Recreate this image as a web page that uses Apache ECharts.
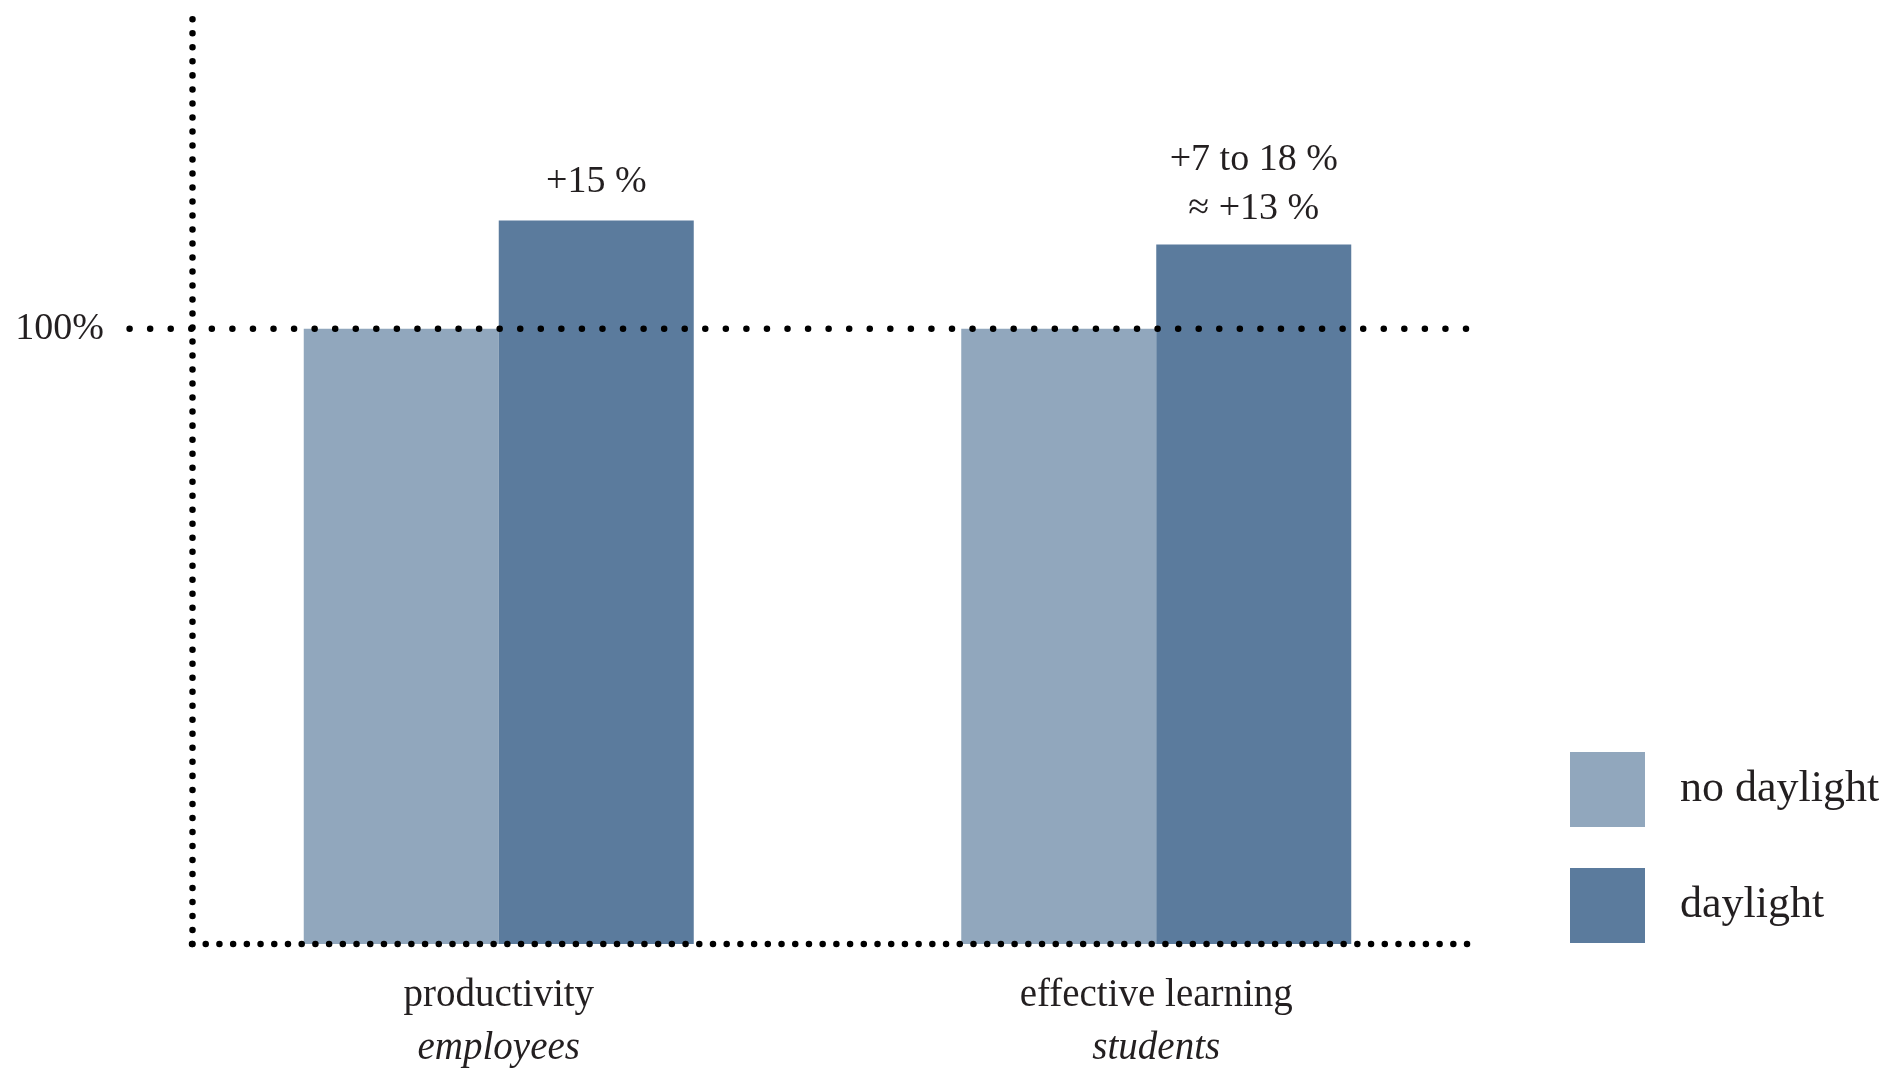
<!DOCTYPE html>
<html>
<head>
<meta charset="utf-8">
<script src="https://cdn.jsdelivr.net/npm/echarts@6/dist/echarts.min.js"></script>
<style>
html,body{margin:0;padding:0;background:#fff;}
#chart{width:1903px;height:1068px;}
</style>
</head>
<body>
<div id="chart"></div>
<script>
// ---- data ----
const categories = ['productivity', 'effective learning'];
const subLabels = ['employees', 'students'];
const seriesNames = ['no daylight', 'daylight'];
const noDaylight = [100, 100];
const daylight = [117.6, 113.7];
const daylightLabels = ['+15 %', '+7 to 18 %\n≈ +13 %'];
const refValue = 100;
const refLabel = '100%';

const FONT = '"Liberation Serif", "DejaVu Serif", serif';
const TXT = '#231f20';
const LIGHT = '#91a7bd';
const DARK = '#5b7b9d';
const labelDistances = [14, 11];

const chart = echarts.init(document.getElementById('chart'));
chart.setOption({
  animation: false,
  backgroundColor: '#fff',
  textStyle: { fontFamily: FONT, color: TXT },
  grid: { left: 170, right: 418, top: 12, bottom: 124 },
  legend: {
    orient: 'vertical',
    left: 1565, top: 747,
    itemWidth: 75, itemHeight: 75, itemGap: 41,
    icon: 'rect',
    data: seriesNames,
    textStyle: { fontFamily: FONT, fontSize: 44, color: TXT, padding: [0, 0, 0, 30] }
  },
  xAxis: {
    type: 'category',
    data: categories,
    axisLine: { show: false },
    axisTick: { show: false },
    axisLabel: {
      margin: 25,
      formatter: (v, i) => '{a|' + v + '}\n{b|' + subLabels[i] + '}',
      rich: {
        a: { fontFamily: FONT, fontSize: 39, color: TXT, lineHeight: 53 },
        b: { fontFamily: FONT, fontSize: 39, fontStyle: 'italic', color: TXT, lineHeight: 53 }
      }
    }
  },
  yAxis: {
    type: 'value',
    min: 0, max: 151.5, interval: 50,
    offset: -22,
    splitLine: { show: false },
    axisTick: { show: false },
    axisLine: { show: true, lineStyle: { color: '#000', width: 6.5, type: [0.01, 14], cap: 'round' } },
    axisLabel: {
      margin: 88,
      fontFamily: FONT, fontSize: 38, color: TXT,
      formatter: v => (v === refValue ? refLabel : '')
    }
  },
  series: [
    {
      name: seriesNames[0], type: 'bar', data: noDaylight,
      barWidth: 195, barGap: '0%',
      itemStyle: { color: LIGHT }
    },
    {
      name: seriesNames[1], type: 'bar',
      data: daylight.map((v, i) => ({ value: v, label: { distance: labelDistances[i] } })),
      barWidth: 195, barGap: '0%',
      itemStyle: { color: DARK },
      label: {
        show: true, position: 'top',
        fontFamily: FONT, fontSize: 38, color: TXT, lineHeight: 49,
        formatter: p => daylightLabels[p.dataIndex]
      }
    }
  ]
});

// dotted reference line and baseline placed via the axis scale
const y0 = chart.convertToPixel({ yAxisIndex: 0 }, 0);
const y100 = chart.convertToPixel({ yAxisIndex: 0 }, refValue);
const axisX = 192, rightX = 1466;
chart.setOption({
  graphic: [
    {
      type: 'line', z: 100,
      shape: { x1: axisX, y1: y0, x2: rightX + 2, y2: y0 },
      style: { stroke: '#000', lineWidth: 6.5, lineDash: [0.01, 13.7], lineCap: 'round' }
    },
    {
      type: 'line', z: 100,
      shape: { x1: rightX, y1: y100, x2: 125, y2: y100 },
      style: { stroke: '#000', lineWidth: 6.5, lineDash: [0.01, 20.55], lineCap: 'round' }
    }
  ]
});
</script>
</body>
</html>
